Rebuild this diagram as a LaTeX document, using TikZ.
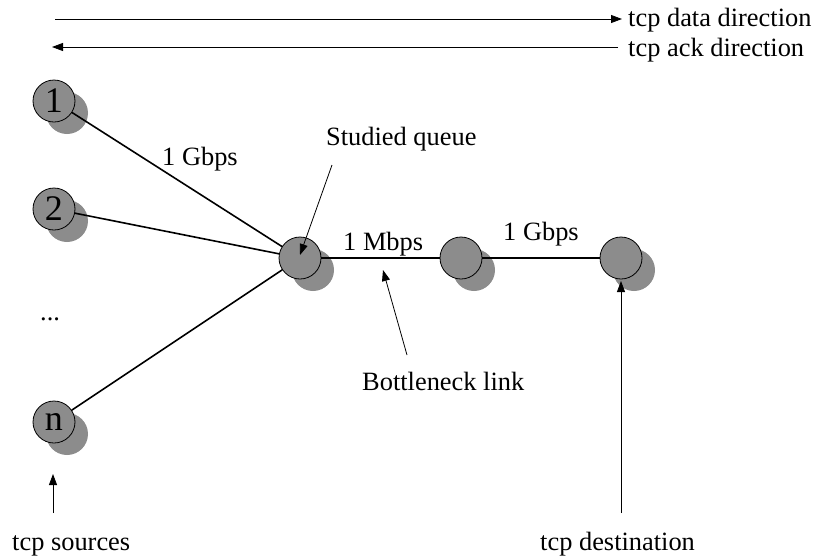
\documentclass[tikz,border=0pt]{standalone}
\usepackage{fontspec}
\setmainfont{Liberation Serif}
\usetikzlibrary{arrows.meta}
\definecolor{nodegray}{RGB}{140,140,140}
\tikzset{
  netnode/.style={circle,draw=black,line width=0.8pt,fill=nodegray,minimum size=42pt,inner sep=0pt,font=\fontsize{36}{40}\selectfont},
  shadownode/.style={circle,fill=nodegray,minimum size=42pt,inner sep=0pt},
  lbl/.style={font=\fontsize{26.4}{30}\selectfont,inner sep=0pt,anchor=base west},
  link/.style={line width=1.6pt},
  biglink/.style={line width=2.6pt},
  pointer/.style={line width=0.8pt,-{Triangle[length=11pt,width=8pt]}},
}
\begin{document}
\begin{tikzpicture}[x=1pt,y=-1pt]
\useasboundingbox (0,0) rectangle (820,558);
% shadows
\foreach \p/\q in {54/101, 54/209, 54/422, 300/258, 461/258, 621/258}{
  \node[shadownode] at (\p+13,\q+12) {};
}
% nodes
\node[netnode] (n1) at (54,101) {1};
\node[netnode] (n2) at (54,209) {2};
\node[netnode] (nn) at (54,422) {n};
\node[netnode] (q) at (300,258) {};
\node[netnode] (r) at (461,258) {};
\node[netnode] (d) at (621,258) {};
% links
\draw[link] (n1) -- (q);
\draw[link] (n2) -- (q);
\draw[link] (nn) -- (q);
\draw[biglink] (q) -- (r);
\draw[biglink] (r) -- (d);
% labels
\node[lbl] (g1) at (162,165) {1 Gbps};
\node[lbl] (mb) at (343,250) {1 Mbps};
\node[lbl] (g2) at (503,240) {1 Gbps};
\node[lbl] (dots) at (40,320) {...};
\node[lbl] (sq) at (326,145) {Studied queue};
\node[lbl] (bl) at (362,390) {Bottleneck link};
\node[lbl] (ts) at (12,550) {tcp sources};
\node[lbl] (td) at (540,550) {tcp destination};
\node[lbl] (tdd) at (628,26) {tcp data direction};
\node[lbl] (tad) at (628,56) {tcp ack direction};
% pointer arrows
\coordinate (sqt) at (332,165);
\coordinate (sqh) at (300,255);
\draw[pointer] (sqt) -- (sqh);
\coordinate (blt) at (407,355);
\coordinate (blh) at (383,270);
\draw[pointer] (blt) -- (blh);
\coordinate (tst) at (53,513);
\coordinate (tsh) at (53,474);
\draw[pointer] (tst) -- (tsh);
\coordinate (tdt) at (621,513);
\coordinate (tdh) at (621,281);
\draw[pointer] (tdt) -- (tdh);
% direction arrows
\coordinate (a1) at (55,19);
\coordinate (a2) at (622,19);
\draw[pointer] (a1) -- (a2);
\coordinate (b1) at (618,47);
\coordinate (b2) at (52,47);
\draw[pointer] (b1) -- (b2);
\end{tikzpicture}
\end{document}
